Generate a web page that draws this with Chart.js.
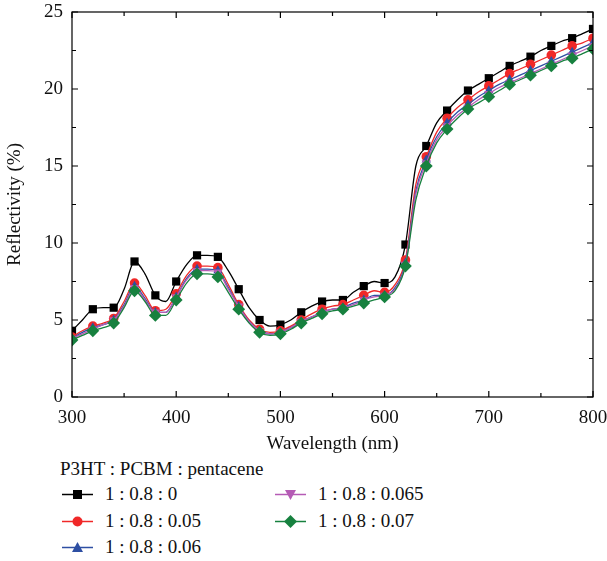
<!DOCTYPE html>
<html>
<head>
<meta charset="utf-8">
<script src="https://cdn.jsdelivr.net/npm/chart.js@4"></script>
<style>
  body { margin: 0; background: #fff; font-family: "Liberation Serif", "DejaVu Serif", serif; }
  #wrap { position: relative; width: 607px; height: 561px; }
  #chart-area { position: absolute; left: 0; top: 0; }
  #legend { position: absolute; left: 0; top: 456px; width: 607px; font-size: 19px; color: #111; }
  #legend .title { position: absolute; left: 60px; top: 0; white-space: nowrap; line-height: 26px; }
  #legend .item { position: absolute; white-space: nowrap; height: 26px; line-height: 26px; }
  #legend svg { vertical-align: middle; margin-right: 12px; position: relative; top: -1px; }
</style>
</head>
<body>
<div id="wrap">
  <canvas id="chart-area" width="607" height="455"></canvas>
  <div id="legend"></div>
</div>
<script>
var wavelengths = [300,310,320,330,340,350,360,370,380,390,400,410,420,430,440,450,460,470,480,490,500,
  510,520,530,540,550,560,570,580,590,600,610,620,630,640,650,660,670,680,690,700,
  710,720,730,740,750,760,770,780,790,800];

var ratio0 = [4.3,5.0,5.7,5.8,5.8,7.0,8.8,8.0,6.6,6.2,7.5,8.6,9.2,9.2,9.1,8.2,7.0,5.8,5.0,4.6,4.7,
  5.0,5.5,5.9,6.2,6.3,6.3,6.8,7.2,7.5,7.4,7.8,9.9,15.0,16.3,17.8,18.6,19.3,19.9,20.3,20.7,
  21.1,21.5,21.8,22.1,22.5,22.8,23.1,23.3,23.6,23.9];
var ratio005 = [3.9,4.3,4.6,4.8,5.1,6.2,7.4,6.6,5.6,5.7,6.7,7.9,8.5,8.5,8.4,7.3,6.0,5.0,4.4,4.2,4.3,
  4.6,5.0,5.4,5.7,5.9,6.0,6.3,6.6,6.9,6.8,7.3,8.9,13.8,15.6,17.2,18.1,18.8,19.3,19.8,20.2,
  20.6,21.0,21.3,21.6,21.9,22.2,22.5,22.8,23.0,23.3];
var ratio006 = [3.8,4.2,4.5,4.7,5.0,6.0,7.2,6.4,5.5,5.5,6.5,7.7,8.3,8.3,8.2,7.1,5.9,4.9,4.3,4.1,4.2,
  4.5,4.9,5.2,5.5,5.7,5.8,6.1,6.3,6.6,6.6,7.1,8.7,13.4,15.4,16.9,17.8,18.5,19.0,19.5,19.9,
  20.3,20.6,20.9,21.2,21.5,21.8,22.1,22.4,22.7,23.0];
var ratio0065 = [3.8,4.1,4.4,4.7,5.0,5.9,7.1,6.3,5.5,5.5,6.5,7.6,8.2,8.2,8.1,7.0,5.9,4.9,4.3,4.1,4.2,
  4.5,4.9,5.2,5.5,5.7,5.8,6.0,6.3,6.5,6.6,7.0,8.6,13.2,15.2,16.7,17.6,18.3,18.8,19.3,19.7,
  20.1,20.4,20.7,21.0,21.3,21.6,21.9,22.2,22.5,22.8];
var ratio007 = [3.7,4.0,4.3,4.5,4.8,5.8,6.9,6.2,5.3,5.3,6.3,7.4,8.0,8.0,7.8,6.8,5.7,4.8,4.2,4.0,4.1,
  4.4,4.8,5.1,5.4,5.6,5.7,5.9,6.1,6.3,6.5,6.9,8.5,12.8,15.0,16.5,17.4,18.1,18.7,19.1,19.5,
  19.9,20.3,20.6,20.9,21.2,21.5,21.8,22.0,22.3,22.6];

var seriesNames = ['1 : 0.8 : 0', '1 : 0.8 : 0.05', '1 : 0.8 : 0.06', '1 : 0.8 : 0.065', '1 : 0.8 : 0.07'];
var seriesValues = [ratio0, ratio005, ratio006, ratio0065, ratio007];

var colors = ['#000000', '#f02828', '#2e4fa3', '#b55bb5', '#17813f'];
var markers = ['rect', 'circle', 'triangle', 'triangle', 'rectRot'];
var markerRot = [0, 0, 0, 180, 0];
var markerSize = [5.8, 4.8, 5.4, 5.4, 6.4];

var serif = '"Liberation Serif", "DejaVu Serif", serif';
var fontSize = 19;

var datasets = seriesValues.map(function(vals, i) {
  return {
    label: seriesNames[i],
    data: vals.map(function(v, j) { return {x: wavelengths[j], y: v}; }),
    borderColor: colors[i],
    backgroundColor: colors[i],
    borderWidth: 1.3,
    pointStyle: markers[i],
    rotation: markerRot[i],
    pointBorderWidth: 0,
    pointRadius: function(ctx) { return ctx.dataIndex % 2 === 0 ? markerSize[i] : 0; },
    cubicInterpolationMode: 'monotone',
    order: 4 - i
  };
});

// frame with inward ticks on all four sides
var framePlugin = {
  id: 'frame',
  afterDraw: function(chart) {
    var c = chart.ctx, a = chart.chartArea;
    var xs = chart.scales.x, ys = chart.scales.y;
    c.save();
    c.strokeStyle = '#000';
    c.lineWidth = 1.2;
    c.strokeRect(a.left, a.top, a.right - a.left, a.bottom - a.top);
    c.beginPath();
    xs.ticks.forEach(function(t) {
      var px = xs.getPixelForValue(t.value);
      var len = t.value % 100 === 0 ? 6 : 4;
      c.moveTo(px, a.bottom); c.lineTo(px, a.bottom - len);
      c.moveTo(px, a.top); c.lineTo(px, a.top + len);
    });
    ys.ticks.forEach(function(t) {
      var py = ys.getPixelForValue(t.value);
      var len = t.value % 5 === 0 ? 6 : 4;
      c.moveTo(a.left, py); c.lineTo(a.left + len, py);
      c.moveTo(a.right, py); c.lineTo(a.right - len, py);
    });
    c.stroke();
    c.restore();
  }
};

var config = {
  type: 'line',
  data: { datasets: datasets },
  options: {
    responsive: false,
    animation: false,
    layout: { padding: { top: 12, right: 0, left: 0, bottom: 0 } },
    plugins: { legend: { display: false }, tooltip: { enabled: false } },
    scales: {
      x: {
        type: 'linear', min: 300, max: 800,
        grid: { display: false, drawTicks: false }, border: { display: false },
        ticks: {
          stepSize: 50, autoSkip: false, maxRotation: 0, padding: 10,
          color: '#111', font: { family: serif, size: fontSize },
          callback: function(v) { return v % 100 === 0 ? v : ''; }
        },
        title: { display: true, text: 'Wavelength (nm)', color: '#111', font: { family: serif, size: fontSize }, padding: { top: 8, bottom: 0 } },
        afterFit: function(s) { s.height = 58; s.paddingRight = 14; s.paddingLeft = 0; }
      },
      y: {
        min: 0, max: 25,
        grid: { display: false, drawTicks: false }, border: { display: false },
        ticks: {
          stepSize: 2.5, autoSkip: false, padding: 9,
          color: '#111', font: { family: serif, size: fontSize },
          callback: function(v) { return v % 5 === 0 ? v : ''; }
        },
        title: { display: true, text: 'Reflectivity (%)', color: '#111', font: { family: serif, size: fontSize }, padding: { bottom: 4 } },
        afterFit: function(s) { s.width = 72; s.paddingTop = 0; s.paddingBottom = 0; }
      }
    }
  },
  plugins: [framePlugin]
};

// legend built from the same names / colours
function markerSvg(i) {
  var shape, col = colors[i];
  if (markers[i] === 'rect') shape = '<rect x="11" y="3" width="9" height="9" fill="' + col + '"/>';
  else if (markers[i] === 'circle') shape = '<circle cx="15.5" cy="7.5" r="5" fill="' + col + '"/>';
  else if (markers[i] === 'rectRot') shape = '<polygon points="15.5,1 22,7.5 15.5,14 9,7.5" fill="' + col + '"/>';
  else if (markerRot[i] === 180) shape = '<polygon points="10,3 21,3 15.5,13" fill="' + col + '"/>';
  else shape = '<polygon points="10,12 21,12 15.5,2" fill="' + col + '"/>';
  return '<svg width="31" height="15"><line x1="0" y1="7.5" x2="31" y2="7.5" stroke="' + col + '" stroke-width="1.5"/>' + shape + '</svg>';
}

var legendPos = [[62, 25], [62, 52], [62, 78], [275, 25], [275, 52]];
var legendHtml = '<div class="title">P3HT : PCBM : pentacene</div>';
seriesNames.forEach(function(n, i) {
  legendHtml += '<div class="item" style="left:' + legendPos[i][0] + 'px;top:' + legendPos[i][1] + 'px">' + markerSvg(i) + n + '</div>';
});
document.getElementById('legend').innerHTML = legendHtml;

var ctx = document.getElementById('chart-area');
window.myLine = new Chart(ctx, config);
</script>
</body>
</html>
